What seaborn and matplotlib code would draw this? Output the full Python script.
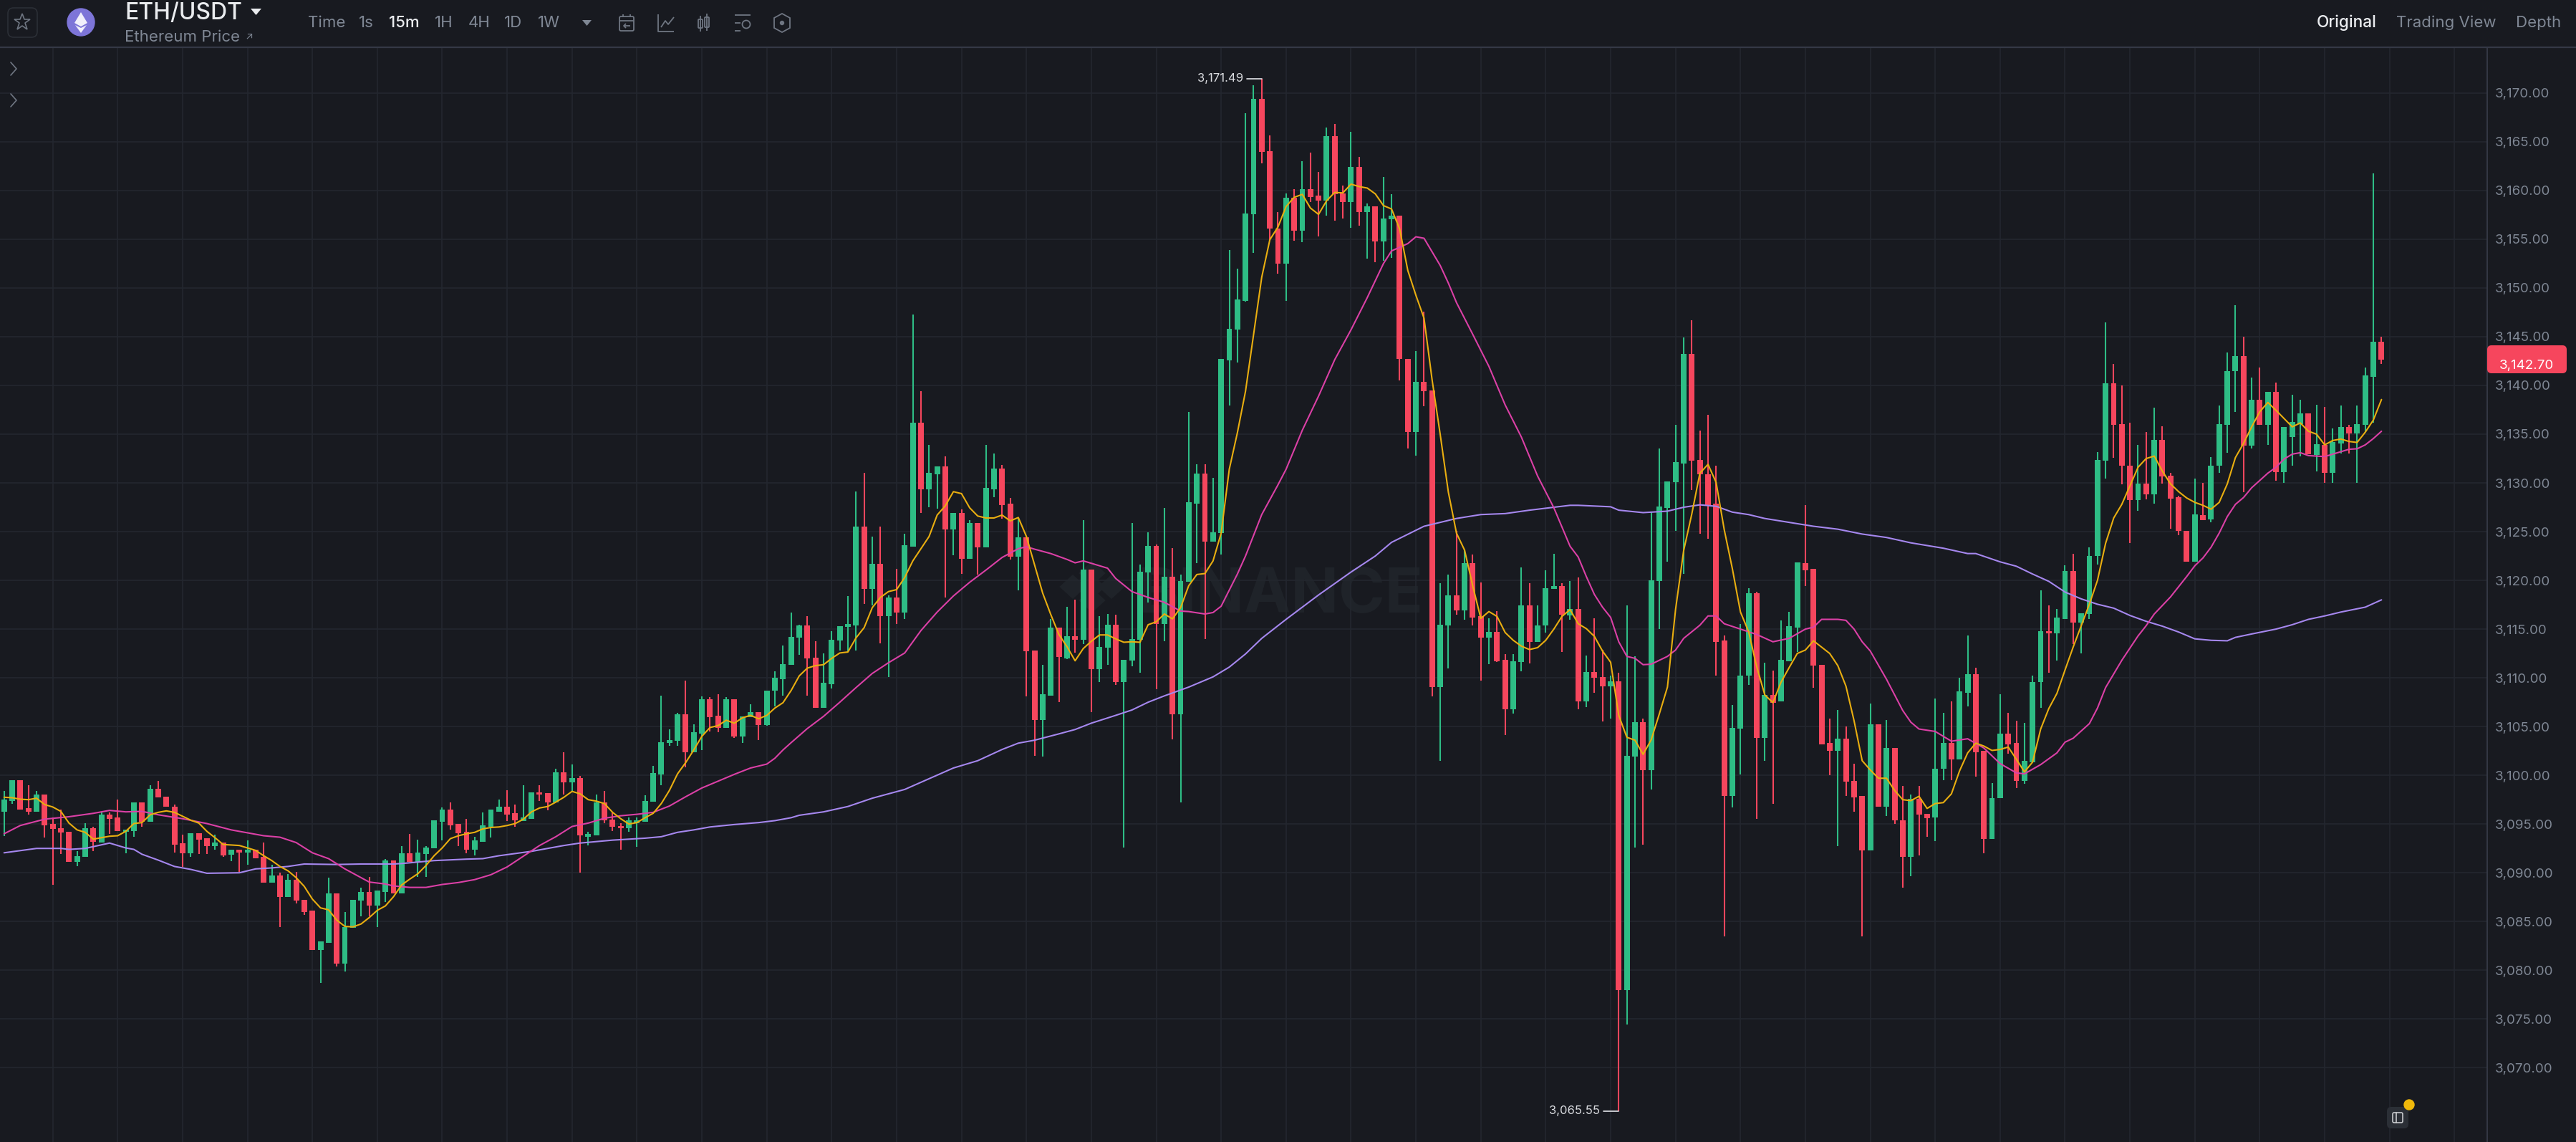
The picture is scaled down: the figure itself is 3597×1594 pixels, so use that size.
import numpy as np
import pandas as pd
import matplotlib
matplotlib.use("Agg")
import matplotlib.pyplot as plt
from matplotlib.patches import FancyBboxPatch, Circle, Polygon
import seaborn as sns

# ---------- data ----------
opens = [
3096.3,3097.4,3099.5,3096.6,3096.3,3098.0,3095.0,3094.6,3094.2,3091.1,
3091.6,3094.6,3093.1,3096.0,3095.7,3094.2,3094.3,3097.2,3095.25,3098.65,
3097.8,3096.8,3093.0,3092.0,3094.05,3093.55,3092.75,3093.1,3091.85,3092.35,
3092.05,3092.4,3091.6,3089.0,3089.7,3087.5,3089.3,3087.25,3086.1,3082.05,
3082.85,3087.9,3080.65,3084.35,3087.15,3088.0,3086.65,3088.0,3091.3,3087.9,
3092.0,3091.1,3091.9,3092.5,3095.25,3096.5,3095.0,3094.2,3092.4,3093.15,
3094.7,3096.3,3096.8,3096.1,3095.3,3095.55,3098.25,3098.2,3097.2,3100.3,
3099.25,3099.7,3093.7,3093.85,3097.2,3095.45,3094.8,3094.55,3095.1,3095.25,
3097.3,3100.1,3103.3,3103.55,3106.25,3102.4,3104.3,3107.8,3106.1,3104.9,
3107.8,3104.0,3105.95,3106.45,3105.15,3108.65,3109.85,3111.3,3114.1,3115.35,
3112.1,3106.9,3109.35,3113.8,3115.2,3115.4,3125.5,3119.1,3121.7,3116.35,
3118.25,3116.7,3123.45,3136.2,3129.35,3130.9,3131.7,3125.2,3126.9,3122.2,
3125.9,3123.35,3129.35,3131.45,3127.9,3122.45,3124.4,3112.8,3105.65,3108.2,
3115.15,3112.0,3114.25,3113.9,3121.1,3110.9,3113.1,3115.45,3109.55,3111.8,
3113.9,3120.85,3123.5,3115.5,3120.4,3106.25,3119.85,3127.9,3130.95,3124.0,
3124.85,3142.55,3145.7,3148.65,3157.6,3169.4,3164.0,3156.1,3152.5,3159.25,
3155.85,3160.15,3159.45,3158.95,3165.6,3159.7,3158.85,3162.45,3157.8,3158.4,
3154.75,3157.05,3157.4,3142.75,3135.25,3140.35,3139.5,3109.05,3115.4,3118.45,
3116.9,3121.8,3116.3,3114.15,3114.7,3111.85,3106.8,3111.6,3117.4,3113.7,
3115.35,3119.15,3119.4,3116.4,3117.1,3107.55,3110.6,3110.05,3109.1,3109.65,
3077.95,3101.9,3105.45,3100.5,3119.9,3127.4,3130.1,3132.0,3143.2,3132.35,
3130.9,3127.85,3113.8,3097.85,3104.8,3110.2,3118.7,3103.85,3108.25,3107.6,
3111.7,3115.15,3121.8,3121.15,3111.3,3103.3,3102.5,3103.75,3099.4,3097.85,
3092.3,3105.2,3096.8,3102.8,3095.4,3091.6,3097.6,3096.05,3095.65,3100.65,
3103.35,3101.6,3108.5,3110.4,3102.5,3093.5,3097.65,3104.3,3103.3,3099.4,
3101.35,3109.55,3114.75,3114.6,3116.05,3120.95,3115.7,3116.55,3122.5,3132.3,
3140.25,3136.0,3131.8,3128.25,3129.9,3128.85,3134.4,3130.7,3128.5,3125.1,
3121.95,3126.7,3126.25,3131.75,3135.95,3141.45,3143.0,3133.8,3138.55,3135.95,
3139.35,3131.1,3134.7,3136.05,3137.1,3132.85,3133.9,3131.0,3134.05,3135.75,
3135.05,3135.95,3140.9,3144.45]

closes = [
3097.5,3099.5,3096.5,3096.3,3098.0,3094.9,3094.5,3094.1,3091.1,3091.7,
3094.6,3093.2,3096.0,3095.5,3094.3,3094.4,3097.2,3095.2,3098.65,3097.7,
3096.75,3092.9,3092.0,3094.05,3093.4,3092.75,3093.1,3091.8,3092.4,3092.05,
3092.4,3091.5,3089.0,3089.7,3087.5,3089.3,3087.15,3086.0,3082.05,3082.95,
3087.9,3080.65,3084.45,3087.2,3088.0,3086.65,3088.15,3091.3,3087.85,3092.0,
3091.1,3092.05,3092.6,3095.35,3096.5,3094.9,3094.05,3092.4,3093.3,3094.85,
3096.45,3096.8,3096.0,3095.35,3095.65,3098.25,3098.0,3097.2,3100.3,3099.25,
3099.7,3093.85,3093.95,3097.25,3095.35,3094.7,3094.55,3095.35,3095.35,3097.4,
3100.2,3103.4,3103.65,3106.25,3102.4,3104.45,3107.8,3105.95,3104.9,3107.8,
3104.0,3106.05,3106.45,3105.15,3108.7,3110.0,3111.4,3114.2,3115.35,3112.0,
3106.9,3109.5,3113.9,3115.3,3115.55,3125.5,3119.1,3121.7,3116.35,3118.25,
3116.7,3123.6,3136.2,3129.35,3131.0,3131.7,3125.2,3126.9,3122.2,3125.9,
3123.35,3129.45,3131.45,3127.75,3122.4,3124.4,3112.7,3105.65,3108.3,3115.15,
3112.15,3114.25,3113.9,3121.1,3110.9,3113.2,3115.45,3109.55,3111.85,3114.0,
3120.9,3123.5,3115.55,3120.4,3106.25,3119.9,3128.0,3130.95,3124.0,3124.9,
3142.7,3145.8,3148.8,3157.65,3169.4,3163.95,3156.1,3152.5,3159.25,3155.85,
3160.15,3159.3,3158.95,3165.6,3159.6,3158.8,3162.45,3157.8,3158.4,3154.75,
3157.15,3157.4,3142.7,3135.25,3140.35,3139.4,3109.05,3115.45,3118.45,3116.9,
3121.8,3116.2,3114.15,3114.7,3111.7,3106.8,3111.7,3117.4,3113.7,3115.4,
3119.2,3119.4,3116.5,3117.1,3107.55,3110.6,3110.0,3109.1,3109.65,3077.95,
3102.0,3105.45,3100.5,3120.0,3127.55,3130.15,3132.15,3143.2,3132.25,3130.85,
3127.75,3113.7,3097.85,3104.9,3110.25,3118.7,3103.85,3108.25,3107.45,3111.85,
3115.3,3121.85,3121.0,3111.25,3103.2,3102.5,3103.75,3099.35,3097.75,3092.3,
3105.2,3096.8,3102.8,3095.4,3091.6,3097.6,3096.0,3095.6,3100.7,3103.35,
3101.65,3108.6,3110.4,3102.4,3093.5,3097.65,3104.3,3103.2,3099.4,3101.45,
3109.6,3114.75,3114.55,3116.15,3120.95,3115.7,3116.6,3122.5,3132.35,3140.25,
3135.95,3131.75,3128.25,3129.9,3128.85,3134.4,3130.65,3128.4,3125.05,3121.95,
3126.75,3126.2,3131.8,3136.05,3141.5,3143.0,3133.8,3138.55,3135.95,3139.35,
3131.1,3135.7,3136.25,3137.1,3132.95,3133.95,3131.0,3134.2,3135.75,3135.05,
3136.05,3141.0,3144.45,3142.65]

highs = [
3098.4,3099.5,3099.5,3099.0,3098.4,3098.0,3095.7,3096.5,3094.2,3092.25,
3095.1,3094.7,3096.2,3096.2,3097.5,3094.4,3097.2,3097.2,3099.0,3099.4,
3097.8,3097.0,3093.9,3094.05,3094.05,3093.55,3093.9,3093.1,3092.4,3092.35,
3093.3,3092.4,3093.1,3090.8,3090.05,3089.9,3090.1,3087.25,3086.1,3082.95,
3089.5,3087.9,3085.95,3087.2,3088.5,3089.55,3088.15,3091.4,3091.3,3092.7,
3093.97,3093.4,3092.75,3095.35,3096.7,3097.25,3095.0,3095.55,3093.7,3096.2,
3096.45,3097.5,3098.5,3097.0,3099.0,3098.25,3099.0,3098.2,3100.7,3102.4,
3101.1,3099.95,3094.2,3098.0,3098.4,3096.2,3095.1,3095.65,3095.65,3097.95,
3101.0,3108.2,3104.7,3106.4,3109.75,3105.25,3108.1,3108.0,3108.3,3108.0,
3107.8,3106.05,3107.3,3106.45,3108.7,3110.7,3113.3,3116.7,3115.45,3116.3,
3113.75,3112.5,3114.75,3115.3,3118.4,3129.15,3131.0,3124.5,3125.55,3118.45,
3121.15,3124.8,3147.25,3139.4,3133.9,3131.7,3132.7,3126.9,3127.3,3126.15,
3125.9,3133.9,3133.0,3131.85,3128.45,3126.35,3124.4,3112.8,3111.35,3116.0,
3115.15,3117.3,3118.0,3126.15,3121.1,3116.3,3116.55,3116.5,3111.85,3125.9,
3121.6,3124.9,3123.7,3127.45,3123.3,3120.6,3137.3,3131.9,3131.9,3130.5,
3142.7,3153.9,3152.0,3167.9,3170.8,3171.49,3165.65,3157.75,3159.7,3160.15,
3163.0,3163.85,3161.9,3166.45,3166.85,3160.5,3166.0,3163.45,3158.65,3158.4,
3161.4,3159.65,3157.4,3142.75,3143.5,3147.6,3139.5,3119.7,3120.6,3125.1,
3123.2,3122.65,3119.75,3116.1,3116.85,3112.4,3112.45,3121.35,3119.7,3117.4,
3121.0,3122.75,3119.7,3119.95,3120.3,3112.3,3116.1,3112.85,3110.2,3110.5,
3117.45,3112.2,3105.85,3127.0,3133.5,3130.15,3135.95,3144.95,3146.65,3135.35,
3137.0,3131.8,3114.35,3107.2,3115.5,3119.2,3118.85,3111.55,3110.75,3115.9,
3116.8,3121.85,3127.7,3121.15,3111.3,3105.85,3106.7,3105.0,3101.2,3097.85,
3107.35,3105.2,3105.7,3102.8,3098.9,3098.05,3098.9,3096.05,3107.85,3106.4,
3107.55,3110.0,3114.35,3111.05,3102.5,3099.2,3108.35,3106.4,3105.6,3105.35,
3110.25,3118.95,3117.4,3117.1,3121.55,3122.7,3116.6,3123.35,3133.15,3146.5,
3142.2,3140.0,3136.2,3133.9,3135.2,3137.7,3135.8,3131.0,3128.7,3125.1,
3130.45,3130.0,3132.65,3137.95,3143.4,3148.25,3145.0,3140.8,3141.8,3139.35,
3140.3,3135.7,3139.05,3138.5,3137.1,3138.0,3137.8,3135.6,3137.95,3135.95,
3137.95,3141.8,3161.75,3145.0]

lows = [
3093.8,3097.1,3096.5,3096.0,3096.3,3093.65,3088.8,3091.9,3091.1,3090.7,
3091.6,3092.2,3093.1,3094.0,3094.3,3092.0,3093.7,3094.7,3095.25,3097.7,
3096.75,3092.1,3090.6,3091.6,3091.9,3091.9,3092.4,3091.65,3091.2,3090.1,
3090.8,3091.5,3089.0,3089.0,3084.4,3087.5,3086.85,3085.65,3082.05,3078.7,
3082.85,3080.4,3079.9,3084.35,3085.55,3085.55,3084.4,3087.0,3087.85,3087.9,
3091.1,3089.6,3089.6,3092.5,3093.3,3094.45,3092.7,3092.0,3091.8,3093.15,
3093.65,3096.3,3095.3,3094.7,3095.3,3095.55,3097.35,3096.4,3097.2,3098.0,
3098.3,3090.0,3092.8,3093.85,3095.1,3094.25,3092.4,3094.2,3092.65,3095.25,
3097.3,3098.95,3103.0,3103.0,3100.85,3102.4,3102.6,3104.5,3104.45,3104.9,
3103.8,3103.35,3105.95,3103.6,3105.05,3107.1,3108.15,3111.3,3112.35,3108.15,
3106.9,3106.9,3108.9,3112.8,3112.65,3112.8,3117.6,3117.45,3113.55,3110.1,
3115.55,3116.0,3123.45,3126.9,3127.5,3127.35,3118.25,3122.55,3120.65,3122.2,
3120.6,3123.35,3128.5,3126.3,3122.1,3119.0,3108.1,3102.0,3101.9,3108.2,
3107.5,3111.9,3112.6,3113.45,3106.5,3109.55,3111.35,3109.3,3092.6,3111.2,
3110.5,3117.75,3108.8,3113.75,3103.7,3097.2,3119.85,3121.8,3114.0,3124.0,
3122.65,3137.95,3142.35,3148.6,3153.6,3162.8,3154.85,3151.5,3148.7,3154.85,
3154.7,3158.85,3155.3,3157.4,3156.9,3157.15,3156.15,3156.4,3153.0,3152.65,
3152.75,3153.1,3140.5,3133.5,3132.8,3137.85,3108.1,3101.5,3111.0,3116.5,
3115.95,3115.4,3109.7,3111.4,3111.6,3104.1,3106.3,3110.7,3111.5,3113.7,
3114.65,3119.15,3112.65,3115.95,3106.8,3107.0,3108.5,3105.55,3105.8,3065.55,
3074.45,3092.6,3092.9,3098.55,3115.0,3121.9,3125.05,3120.7,3129.3,3124.8,
3124.3,3110.25,3083.45,3096.7,3100.1,3109.25,3095.5,3101.5,3097.1,3107.6,
3111.7,3112.65,3119.45,3109.0,3103.2,3100.0,3092.7,3097.9,3096.3,3083.45,
3092.3,3096.8,3095.8,3095.0,3088.5,3089.65,3091.75,3093.7,3093.25,3099.5,
3099.5,3101.6,3107.05,3099.85,3092.0,3093.5,3097.65,3102.2,3098.7,3099.1,
3101.35,3106.9,3110.5,3111.75,3116.05,3113.45,3112.5,3116.0,3121.6,3130.45,
3132.6,3129.85,3123.8,3127.1,3128.3,3127.9,3129.9,3125.3,3124.6,3121.95,
3121.95,3126.2,3125.95,3131.0,3133.1,3137.3,3129.05,3133.5,3135.95,3133.9,
3130.2,3130.0,3131.8,3132.75,3132.95,3131.2,3130.0,3130.0,3133.0,3133.0,
3130.0,3135.25,3136.15,3142.2]

ma7 = [
3097.75,3097.7,3097.55,3097.5,3097.65,3097.0,3096.75,3096.3,3095.1,3094.4,
3094.15,3093.45,3093.6,3093.75,3093.8,3094.25,3095.05,3095.15,3095.95,3096.2,
3096.35,3096.2,3095.8,3095.4,3095.1,3094.25,3093.6,3092.9,3092.85,3092.8,
3092.55,3092.3,3091.75,3091.25,3090.65,3090.2,3089.5,3088.6,3087.3,3086.4,
3086.2,3085.15,3084.5,3084.45,3084.75,3085.4,3086.15,3086.6,3087.55,3088.75,
3089.35,3089.9,3090.75,3091.75,3092.55,3093.5,3093.8,3094.0,3094.15,3094.5,
3094.65,3094.7,3094.85,3095.05,3095.5,3096.25,3096.65,3096.8,3097.25,3097.75,
3098.35,3098.1,3097.5,3097.35,3097.1,3096.2,3095.55,3095.0,3095.15,3095.65,
3096.1,3097.1,3098.45,3100.15,3101.3,3102.6,3104.0,3104.9,3105.1,3105.65,
3105.35,3105.9,3106.15,3105.8,3106.15,3106.9,3107.45,3108.7,3110.2,3111.0,
3111.25,3111.35,3112.0,3112.55,3112.65,3114.1,3115.15,3117.2,3118.25,3118.85,
3119.05,3120.3,3122.0,3123.25,3124.5,3126.7,3127.65,3129.1,3128.9,3127.45,
3126.6,3126.4,3126.4,3126.7,3126.1,3126.45,3124.5,3121.6,3118.7,3116.5,
3114.45,3113.2,3111.75,3113.0,3113.75,3114.4,3114.4,3114.0,3113.65,3113.7,
3113.65,3115.45,3115.75,3116.55,3116.05,3117.2,3119.45,3120.6,3120.7,3122.0,
3124.85,3131.4,3135.15,3139.4,3145.25,3151.1,3154.95,3156.25,3158.35,3159.3,
3159.6,3158.2,3157.55,3158.95,3159.8,3159.75,3160.65,3160.4,3160.25,3159.65,
3158.45,3158.1,3156.05,3151.8,3149.25,3146.9,3140.55,3134.95,3129.05,3124.85,
3123.1,3119.45,3116.1,3116.8,3116.3,3114.65,3113.85,3113.25,3112.9,3113.1,
3113.85,3115.0,3116.3,3117.0,3115.55,3115.05,3114.25,3112.75,3111.6,3106.15,
3103.9,3103.6,3102.15,3103.65,3106.3,3109.05,3117.0,3123.05,3126.8,3131.0,
3131.9,3130.05,3125.2,3121.2,3116.75,3114.75,3111.15,3108.25,3107.45,3109.55,
3111.05,3112.5,3112.85,3113.8,3113.15,3112.5,3111.25,3109.15,3105.6,3101.5,
3100.55,3099.7,3099.7,3098.45,3097.5,3097.4,3097.85,3096.6,3097.1,3097.2,
3098.1,3100.45,3102.3,3103.3,3103.0,3102.55,3102.65,3102.9,3101.65,3100.35,
3101.35,3104.75,3106.85,3108.4,3110.8,3113.15,3115.35,3117.55,3120.0,3123.8,
3126.4,3127.8,3129.7,3131.6,3132.5,3132.75,3131.2,3129.9,3129.1,3128.45,
3128.0,3127.7,3127.3,3128.0,3129.9,3132.6,3134.05,3135.75,3137.3,3138.25,
3137.45,3136.6,3135.75,3136.15,3135.3,3135.0,3133.9,3134.35,3134.5,3134.25,
3134.15,3135.2,3136.45,3138.55]

ma25_idx = [
0,2,5,8,11,13,15,17,19,22,25,28,30,32,34,36,38,39,40,42,44,45,47,48,
50,52,54,56,58,60,62,64,66,68,70,72,74,76,78,80,82,84,86,88,90,92,94,95,96,97,
99,101,103,105,107,109,111,113,115,117,119,121,123,125,126,127,129,131,132,133,135,136,137,139,141,143,145,
146,148,149,150,151,152,153,155,157,158,160,162,164,166,168,170,171,173,174,175,177,178,179,181,183,185,187,189,191,193,194,
195,196,197,198,199,200,201,202,203,205,206,207,209,210,211,212,214,216,218,220,222,223,224,226,227,228,229,230,232,234,235,236,238,240,242,
244,246,248,249,251,253,254,255,257,258,259,261,263,264,265,267,269,270,271,272,273,274,275,276,277,279,280,281,282,283,284,285,286,288,289,290,291,292,293]
ma25 = [
3094.0,3094.85,3095.5,3095.75,3096.1,3096.4,3096.25,3096.3,3095.95,3095.55,3095.05,3094.4,3094.1,3093.8,3093.65,3093.1,3092.05,3091.75,3091.45,3090.4,3089.5,3089.05,3088.85,3088.65,
3088.5,3088.5,3088.8,3089.0,3089.3,3089.8,3090.6,3091.7,3092.8,3093.7,3094.75,3095.1,3095.6,3095.85,3096.0,3096.2,3096.85,3097.8,3098.7,3099.4,3100.1,3100.75,3101.15,3101.75,3102.6,3103.35,
3104.8,3106.05,3107.5,3109.0,3110.45,3111.55,3112.55,3114.85,3116.75,3118.4,3119.8,3121.05,3122.35,3123.25,3123.45,3123.2,3122.75,3122.15,3121.8,3122.0,3121.5,3121.25,3120.2,3118.85,3118.25,3117.75,3116.85,
3116.8,3116.55,3116.7,3117.35,3119.0,3120.65,3122.5,3126.75,3129.8,3131.4,3135.4,3138.9,3142.65,3145.7,3149.0,3152.5,3153.8,3154.55,3155.25,3155.1,3152.3,3150.5,3148.5,3145.25,3141.95,3138.0,3134.7,3130.7,3127.45,3123.5,3122.4,
3120.4,3118.55,3117.25,3116.2,3113.7,3112.2,3112.0,3111.35,3111.4,3112.2,3112.85,3114.05,3115.4,3116.35,3116.35,3115.55,3115.0,3114.45,3113.7,3114.05,3115.0,3115.2,3116.0,3116.0,3115.9,3115.0,3113.7,3112.75,3109.85,3106.65,3105.45,3104.75,3104.5,3103.5,3103.75,
3102.8,3101.2,3100.25,3100.15,3101.1,3102.3,3103.4,3103.8,3105.3,3106.9,3109.0,3111.8,3114.3,3115.35,3116.55,3118.3,3120.4,3121.5,3122.3,3123.4,3124.85,3126.55,3127.8,3128.5,3129.5,3131.0,3131.6,3132.45,3132.95,3133.1,3132.8,3132.75,3132.7,3133.2,3133.45,3133.5,3133.9,3134.55,3135.3]

ma99_idx = [
0,4,7,8,10,13,15,16,17,19,21,23,25,29,31,33,35,37,41,44,48,
49,53,57,59,61,65,69,71,75,79,81,83,85,87,90,93,95,97,
98,101,104,107,111,114,117,120,123,125,127,130,132,134,137,139,141,143,145,
146,149,151,153,155,158,162,166,169,171,175,179,182,185,188,193,
194,198,199,202,205,207,209,211,213,215,217,220,223,226,229,232,235,239,242,
243,246,248,250,252,254,256,258,260,262,264,266,268,270,272,274,275,277,280,282,284,286,288,291,293]
ma99 = [
3092.05,3092.5,3092.5,3092.4,3092.5,3093.05,3092.55,3092.4,3091.9,3091.3,3090.65,3090.35,3089.95,3090.0,3090.4,3090.5,3090.65,3090.9,3090.85,3090.9,3090.9,
3090.95,3091.25,3091.4,3091.45,3091.75,3092.2,3092.8,3093.05,3093.35,3093.55,3093.7,3094.15,3094.4,3094.7,3094.95,3095.15,3095.35,3095.65,
3095.9,3096.25,3096.8,3097.65,3098.55,3099.65,3100.75,3101.5,3102.65,3103.3,3103.6,3104.25,3104.7,3105.35,3106.15,3106.7,3107.5,3108.15,3108.75,
3109.05,3110.1,3111.1,3112.45,3114.05,3116.0,3118.5,3120.85,3122.5,3123.9,3125.55,3126.35,3126.75,3126.85,3127.2,3127.7,
3127.7,3127.55,3127.2,3126.95,3127.1,3127.5,3127.75,3127.6,3127.0,3126.75,3126.35,3125.95,3125.55,3125.25,3124.75,3124.4,3123.85,3123.3,3122.75,
3122.75,3121.9,3121.45,3120.65,3119.9,3118.8,3118.1,3117.55,3117.15,3116.4,3115.8,3115.3,3114.7,3114.0,3113.85,3113.8,3114.15,3114.5,3115.0,3115.45,3116.0,3116.35,3116.75,3117.25,3118.0]

price_ticks = [3070 + 5 * k for k in range(21)]
last_price = 3142.70
timeframes = ["Time", "1s", "15m", "1H", "4H", "1D", "1W"]

# ---------- look ----------
BG, GRID, LINE = "#181a20", "#23272f", "#343845"
UP, DOWN = "#2ebd85", "#f6465d"
MUTED = "#7f8794"
W, H = 3598, 1594

sns.set_theme(style="dark")
plt.rcParams["font.family"] = ["Inter", "DejaVu Sans"]

fig = plt.figure(figsize=(W / 100, H / 100), dpi=100, facecolor=BG)

df = pd.DataFrame({"open": opens, "high": highs, "low": lows, "close": closes})
df["i"] = np.arange(len(df))
up = df["close"] >= df["open"]

# back layer: watermark
back = fig.add_axes([0, 0, 1, 1], facecolor=BG, zorder=0)
back.set_xlim(0, W); back.set_ylim(H, 0); back.axis("off")
WM = "#1f2329"
for cx, cy, r in [(1525, 800, 17), (1525, 838, 17), (1498, 819, 17), (1552, 819, 17), (1525, 819, 17)]:
    back.add_patch(Polygon([(cx - r * 1.1, cy), (cx, cy - r), (cx + r * 1.1, cy), (cx, cy + r)], color=WM, lw=0))
back.text(1588, 832, "BINANCE", color=WM, fontsize=63, fontweight="bold", ha="left", va="center")

# main chart
ax = fig.add_axes([0, 0, 3473 / W, (H - 66) / H], zorder=1)
ax.patch.set_visible(False)
ax.set_xlim(-0.5, 306.03)
ax.set_ylim(3062.38, 3174.69)

ax.set_xticks(np.arange(6, 303, 8))
ax.set_yticks(price_ticks)
ax.set_yticklabels([f"{v:,.2f}" for v in price_ticks])
ax.yaxis.tick_right()
ax.tick_params(axis="y", length=0, pad=7.5, labelsize=13.5, labelcolor=MUTED)
ax.tick_params(axis="x", length=0, labelbottom=False)
ax.grid(True, color=GRID, linewidth=1.2)
ax.set_axisbelow(True)
for name, s in ax.spines.items():
    s.set_visible(name == "right")
    s.set_color(LINE); s.set_linewidth(1.4)
ax.set_xlabel(""); ax.set_ylabel("")

colors = np.where(up, UP, DOWN)
ax.vlines(df["i"], df["low"], df["high"], colors=colors, linewidth=1.5, zorder=3)
ax.bar(df["i"], (df["close"] - df["open"]).abs(), bottom=df[["open", "close"]].min(axis=1),
       width=0.7, color=colors, linewidth=0, zorder=3.1)

sns.lineplot(x=ma99_idx, y=ma99, ax=ax, color="#a587ee", linewidth=1.5, estimator=None, sort=False, zorder=4)
sns.lineplot(x=ma25_idx, y=ma25, ax=ax, color="#db40a6", linewidth=1.5, estimator=None, sort=False, zorder=4.1)
sns.lineplot(x=df["i"], y=ma7, ax=ax, color="#e9ae10", linewidth=1.5, estimator=None, sort=False, zorder=4.2)

# extreme-price labels
hi_i, lo_i = int(df["high"].idxmax()), int(df["low"].idxmin())
for i, v in [(hi_i, df["high"][hi_i]), (lo_i, df["low"][lo_i])]:
    ax.plot([i - 1.85, i], [v, v], color="#e4e6ea", linewidth=1.2, zorder=5)
    ax.annotate(f"{v:,.2f}", xy=(i - 2.3, v), ha="right", va="center", color="#d9dbdf", fontsize=12, zorder=5)

# overlay: header, tag, icons
top = fig.add_axes([0, 0, 1, 1], zorder=2, facecolor="none")
top.set_xlim(0, W); top.set_ylim(H, 0); top.axis("off")
top.plot([0, W], [66, 66], color=LINE, lw=1.6)

ICON = "#6f7682"
top.add_patch(FancyBboxPatch((11, 11), 41, 41, boxstyle="round,pad=0,rounding_size=8", fc="none", ec="#2b2f36", lw=1.2))
top.plot([31], [31], marker="*", ms=17, mfc="none", mec=ICON, mew=1.2)
top.add_patch(Circle((113, 31), 19, color="#7d75d8", zorder=3))
top.add_patch(Polygon([(113, 17), (122, 32), (113, 37), (104, 32)], color="#f1f0fb", lw=0, zorder=4))
top.add_patch(Polygon([(113, 39), (121, 35), (113, 46), (105, 35)], color="#f1f0fb", lw=0, zorder=4))

top.text(174, 18.5, "ETH/USDT", color="#eaecef", fontsize=23, ha="left", va="center", fontweight="medium")
top.add_patch(Polygon([(350, 12), (365, 12), (357.5, 21)], color="#eaecef", lw=0))
top.text(174, 52, "Ethereum Price", color=MUTED, fontsize=16, ha="left", va="center")
top.text(342, 50, "↗", color=MUTED, fontsize=10, ha="left", va="center")

tf_x = [430, 501, 543, 607, 654, 704, 751]
for label, x in zip(timeframes, tf_x):
    on = label == "15m"
    top.text(x, 32, label, color="#eaecef" if on else MUTED, fontsize=16, ha="left", va="center",
             fontweight="medium" if on else "normal")
top.add_patch(Polygon([(813, 28), (826, 28), (819.5, 36)], color=MUTED, lw=0))

# toolbar icons
kw = dict(color=ICON, lw=1.3, solid_capstyle="butt")
top.add_patch(FancyBboxPatch((865, 23), 20, 20, boxstyle="round,pad=0,rounding_size=2", fc="none", ec=ICON, lw=1.3))
top.plot([865, 885], [29, 29], **kw); top.plot([870, 870], [20, 24], **kw); top.plot([880, 880], [20, 24], **kw)
top.plot([880, 871], [36, 36], **kw); top.plot([874, 871, 874], [33, 36, 39], **kw)
top.plot([919, 919, 941], [20, 44, 44], **kw); top.plot([923, 929, 933, 941], [38, 29, 34, 24], **kw)
for x0, y0, h0 in [(978, 27, 12), (987, 24, 14)]:
    top.add_patch(FancyBboxPatch((x0 - 3, y0), 6, h0, boxstyle="round,pad=0,rounding_size=1", fc="none", ec=ICON, lw=1.3))
    top.plot([x0, x0], [y0 - 5, y0 + h0 + 5], **kw)
top.plot([1026, 1048], [21, 21], **kw); top.plot([1026, 1034], [32, 32], **kw); top.plot([1026, 1034], [43, 43], **kw)
top.add_patch(Circle((1042, 34), 5.5, fc="none", ec=ICON, lw=1.3))
top.add_patch(Polygon([(1092, 19), (1103, 25), (1103, 39), (1092, 45), (1081, 39), (1081, 25)], fc="none", ec=ICON, lw=1.3))
top.add_patch(Circle((1092, 32), 2.5, color=ICON))

# right menu
top.text(3235, 32, "Original", color="#eaecef", fontsize=16.3, ha="left", va="center", fontweight="medium")
top.text(3346, 32, "Trading View", color=MUTED, fontsize=16, ha="left", va="center")
top.text(3513, 32, "Depth", color=MUTED, fontsize=16, ha="left", va="center")

# side chevrons
for y in (96, 140):
    top.plot([15, 23, 15], [y - 9, y, y + 9], color="#6f7682", lw=1.2)

# last-price tag
top.add_patch(FancyBboxPatch((3473, 482), 111, 39, boxstyle="round,pad=0,rounding_size=6", fc=DOWN, ec="none", zorder=5))
top.text(3528, 510, f"{last_price:,.2f}", color="white", fontsize=13.5, ha="center", va="center", zorder=6)

# bottom-right widget
top.add_patch(FancyBboxPatch((3333, 1545), 30, 30, boxstyle="round,pad=0,rounding_size=6", fc="#2b2f36", ec="none", zorder=5))
top.add_patch(FancyBboxPatch((3341, 1553), 14, 14, boxstyle="round,pad=0,rounding_size=2", fc="none", ec="#d5d7da", lw=1.1, zorder=6))
top.plot([3346, 3346], [1553, 1567], color="#d5d7da", lw=1.1, zorder=6)
top.add_patch(Circle((3364, 1542), 7, color="#f0b90b", zorder=6))

fig.savefig("out.png", dpi=100, facecolor=BG)
